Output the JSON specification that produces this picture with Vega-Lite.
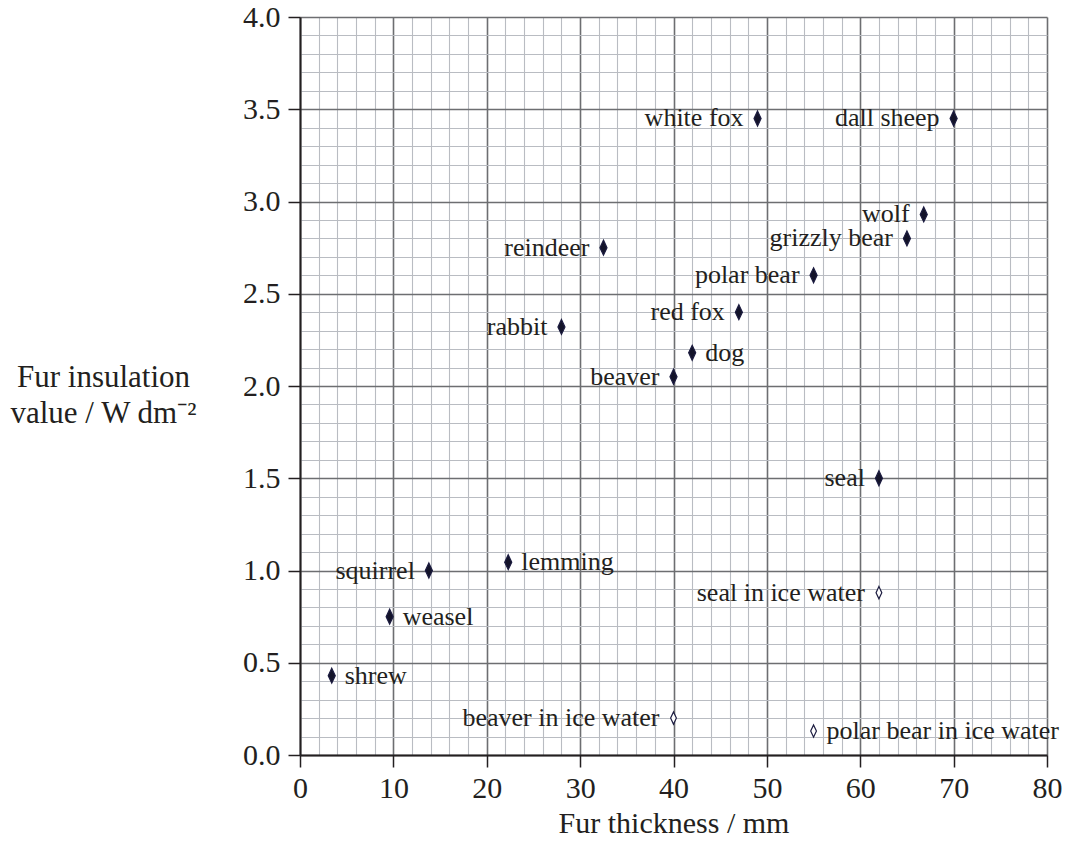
{
  "$schema": "https://vega.github.io/schema/vega-lite/v6.json",
  "width": 747,
  "height": 738,
  "autosize": "none",
  "padding": {"left": 300, "top": 17, "right": 22, "bottom": 106},
  "background": "white",
  "config": {"view": {"stroke": null}, "font": "Liberation Serif"},
  "data": {
    "values": [
      {"animal": "shrew", "thickness": 3.4, "insulation": 0.43},
      {"animal": "weasel", "thickness": 9.6, "insulation": 0.75},
      {"animal": "squirrel", "thickness": 13.8, "insulation": 1.0},
      {"animal": "lemming", "thickness": 22.3, "insulation": 1.045},
      {"animal": "rabbit", "thickness": 28, "insulation": 2.32},
      {"animal": "reindeer", "thickness": 32.5, "insulation": 2.75},
      {"animal": "beaver", "thickness": 40, "insulation": 2.05},
      {"animal": "dog", "thickness": 42, "insulation": 2.18},
      {"animal": "red fox", "thickness": 47, "insulation": 2.4},
      {"animal": "white fox", "thickness": 49, "insulation": 3.45},
      {"animal": "polar bear", "thickness": 55, "insulation": 2.6},
      {"animal": "seal", "thickness": 62, "insulation": 1.5},
      {"animal": "grizzly bear", "thickness": 65, "insulation": 2.8},
      {"animal": "wolf", "thickness": 66.8, "insulation": 2.93},
      {"animal": "dall sheep", "thickness": 70, "insulation": 3.45},
      {"animal": "seal in ice water", "thickness": 62, "insulation": 0.88},
      {"animal": "beaver in ice water", "thickness": 40, "insulation": 0.2},
      {"animal": "polar bear in ice water", "thickness": 55, "insulation": 0.13}
    ]
  },
  "encoding": {
    "x": {
      "field": "thickness",
      "type": "quantitative",
      "scale": {"domain": [0, 80], "nice": false, "zero": false},
      "axis": {
        "values": [0,2,4,6,8,10,12,14,16,18,20,22,24,26,28,30,32,34,36,38,40,42,44,46,48,50,52,54,56,58,60,62,64,66,68,70,72,74,76,78,80],
        "grid": true,
        "gridColor": {"condition": {"test": "datum.value % 10 === 0", "value": "#6d6e71"}, "value": "#b9bcc2"},
        "gridWidth": {"condition": {"test": "datum.value % 10 === 0", "value": 1.6}, "value": 1.1},
        "tickOpacity": {"condition": {"test": "datum.value % 10 === 0", "value": 1}, "value": 0},
        "tickColor": "#231f20",
        "tickSize": 12,
        "tickWidth": 1.5,
        "labelExpr": "datum.value % 10 === 0 ? datum.label : ''",
        "labelOverlap": false,
        "labelFlush": false,
        "labelFont": "Liberation Serif",
        "labelFontSize": 30,
        "labelColor": "#231f20",
        "labelBaseline": "alphabetic",
        "labelPadding": 30,
        "domainColor": "#231f20",
        "domainWidth": 2,
        "title": "Fur thickness / mm",
        "titleFont": "Liberation Serif",
        "titleFontSize": 30,
        "titleFontWeight": "normal",
        "titleColor": "#231f20",
        "titleBaseline": "alphabetic",
        "titleAnchor": "middle",
        "titleY": 77
      }
    },
    "y": {
      "field": "insulation",
      "type": "quantitative",
      "scale": {"domain": [0, 4], "nice": false, "zero": false},
      "axis": {
        "values": [0,0.1,0.2,0.3,0.4,0.5,0.6,0.7,0.8,0.9,1,1.1,1.2,1.3,1.4,1.5,1.6,1.7,1.8,1.9,2,2.1,2.2,2.3,2.4,2.5,2.6,2.7,2.8,2.9,3,3.1,3.2,3.3,3.4,3.5,3.6,3.7,3.8,3.9,4],
        "grid": true,
        "gridColor": {"condition": {"test": "round(datum.value*10) % 5 === 0", "value": "#6d6e71"}, "value": "#b9bcc2"},
        "gridWidth": {"condition": {"test": "round(datum.value*10) % 5 === 0", "value": 1.6}, "value": 1.1},
        "tickOpacity": {"condition": {"test": "round(datum.value*10) % 5 === 0", "value": 1}, "value": 0},
        "tickColor": "#231f20",
        "tickSize": 12,
        "tickWidth": 1.5,
        "labelExpr": "round(datum.value*10) % 5 === 0 ? format(datum.value, '.1f') : ''",
        "labelOverlap": false,
        "labelFlush": false,
        "labelFont": "Liberation Serif",
        "labelFontSize": 30,
        "labelColor": "#231f20",
        "labelBaseline": "middle",
        "labelPadding": 8,
        "domainColor": "#231f20",
        "domainWidth": 2,
        "title": ["Fur insulation", "value / W dm⁻²"],
        "titleFont": "Liberation Serif",
        "titleFontSize": 31,
        "titleFontWeight": "normal",
        "titleColor": "#231f20",
        "titleAngle": 0,
        "titleAlign": "center",
        "titleBaseline": "alphabetic",
        "titleLineHeight": 36,
        "titleX": -197,
        "titleY": 369
      }
    }
  },
  "layer": [
    {
      "mark": {"type": "point", "shape": "M0,-1L0.47,0L0,1L-0.47,0Z", "filled": true, "opacity": 1, "strokeWidth": 1.2},
      "encoding": {
        "fill": {"condition": {"test": "indexof(datum.animal, 'ice water') >= 0", "value": "white"}, "value": "#14142a"},
        "stroke": {"value": "#1c1c40"},
        "size": {"condition": {"test": "indexof(datum.animal, 'ice water') >= 0", "value": 150}, "value": 225}
      }
    },
    {
      "transform": [{"filter": {"field": "animal", "oneOf": ["squirrel", "rabbit", "reindeer", "beaver", "red fox", "white fox", "polar bear", "seal", "grizzly bear", "wolf", "dall sheep", "seal in ice water", "beaver in ice water"]}}],
      "mark": {"type": "text", "align": "right", "baseline": "alphabetic", "dx": -14, "dy": 8, "font": "Liberation Serif", "fontSize": 26, "color": "#231f20"},
      "encoding": {"text": {"field": "animal"}}
    },
    {
      "transform": [{"filter": {"field": "animal", "oneOf": ["shrew", "weasel", "lemming", "dog", "polar bear in ice water"]}}],
      "mark": {"type": "text", "align": "left", "baseline": "alphabetic", "dx": 13, "dy": 8, "font": "Liberation Serif", "fontSize": 26, "color": "#231f20"},
      "encoding": {"text": {"field": "animal"}}
    }
  ]
}
